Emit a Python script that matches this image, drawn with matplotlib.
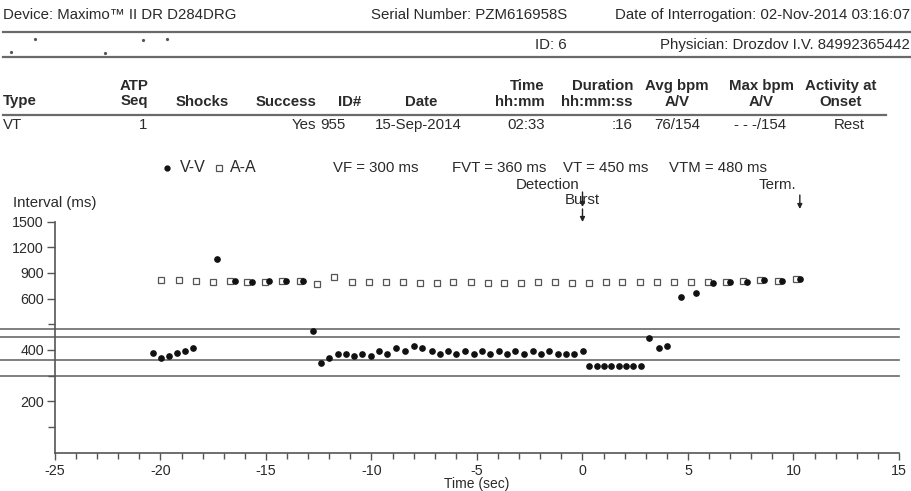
import numpy as np
import matplotlib.pyplot as plt
from matplotlib import transforms
from matplotlib.lines import Line2D

plt.rcParams['font.family'] = ['Liberation Sans', 'DejaVu Sans']

# ---- episode data ----
vv_time = [-20.37, -19.99, -19.61, -19.23, -18.84, -18.45, -17.34, -16.48, -15.68, -14.86,
           -14.05, -13.23, -12.76, -12.38, -12.00, -11.60, -11.22, -10.84, -10.44, -10.04,
           -9.64, -9.25, -8.82, -8.43, -7.99, -7.59, -7.15, -6.77, -6.37, -5.98,
           -5.57, -5.16, -4.76, -4.38, -3.97, -3.59, -3.18, -2.77, -2.36, -1.97,
           -1.57, -1.16, -0.78, -0.40, 0.01, 0.33, 0.67, 1.02, 1.36, 1.71,
           2.06, 2.40, 2.76, 3.17, 3.63, 4.02, 4.67, 5.36, 6.17, 6.99,
           7.81, 8.62, 9.45, 10.31]
vv_ms = [387, 367, 378, 387, 397, 406, 1060, 803, 800, 806,
         806, 803, 475, 348, 367, 386, 386, 378, 386, 378,
         397, 386, 406, 397, 417, 406, 397, 386, 397, 386,
         397, 386, 397, 386, 397, 386, 397, 386, 397, 386,
         397, 386, 386, 386, 397, 337, 337, 337, 337, 337,
         337, 337, 337, 448, 406, 415, 623, 670, 780, 795,
         791, 822, 803, 830]

aa_time = [-19.99, -19.14, -18.33, -17.53, -16.71, -15.89, -15.05, -14.23, -13.39, -12.60,
           -11.76, -10.94, -10.12, -9.31, -8.49, -7.68, -6.91, -6.12, -5.30, -4.49,
           -3.70, -2.91, -2.11, -1.30, -0.49, 0.32, 1.11, 1.89, 2.73, 3.53,
           4.34, 5.16, 5.94, 6.78, 7.61, 8.43, 9.28, 10.10]
aa_ms = [822, 822, 803, 798, 807, 798, 798, 807, 807, 771,
         849, 798, 798, 791, 791, 780, 780, 791, 791, 780,
         780, 780, 791, 791, 780, 780, 791, 798, 791, 791,
         791, 791, 791, 798, 803, 822, 803, 826]

zones = [480, 450, 360, 300]
zone_labels = ["VF = 300 ms", "FVT = 360 ms", "VT = 450 ms", "VTM = 480 ms"]
detection_t = 0.0
term_t = 10.3

header_top = ["", "ATP", "", "", "", "", "Time", "Duration", "Avg bpm", "Max bpm", "Activity at"]
header_bottom = ["Type", "Seq", "Shocks", "Success", "ID#", "Date", "hh:mm", "hh:mm:ss", "A/V", "A/V", "Onset"]
row_values = ["VT", "1", "", "Yes", "955", "15-Sep-2014", "02:33", ":16", "76/154", "- - -/154", "Rest"]

W, H = 912, 491
def fx(x):
    return x / W
def fy(y):
    return 1 - y / H

TXT = '#2a2a2a'
GRID = '#6a6a6a'
FS = 10.8

fig = plt.figure(figsize=(9.12, 4.91), dpi=100)
fig.patch.set_facecolor('white')

# ---- report header ----
fig.text(fx(3), fy(15), "Device: Maximo\u2122 II DR D284DRG", fontsize=FS, color=TXT, va='center')
fig.text(fx(567), fy(15), "Serial Number: PZM616958S", fontsize=FS, color=TXT, va='center', ha='right')
fig.text(fx(910), fy(15), "Date of Interrogation: 02-Nov-2014 03:16:07", fontsize=FS, color=TXT, va='center', ha='right')
fig.text(fx(567), fy(45), "ID: 6", fontsize=FS, color=TXT, va='center', ha='right')
fig.text(fx(910), fy(45), "Physician: Drozdov I.V. 84992365442", fontsize=FS, color=TXT, va='center', ha='right')
for xx, yy in [(11, 52), (35, 39), (105, 53), (143, 40), (167, 39)]:
    fig.add_artist(Line2D([fx(xx)], [fy(yy)], marker='o', ms=1.3, color='#555', lw=0))
fig.add_artist(Line2D([fx(3), fx(911)], [fy(31.5), fy(31.5)], color=GRID, lw=1.6))
fig.add_artist(Line2D([fx(3), fx(911)], [fy(56.5), fy(56.5)], color=GRID, lw=1.6))

# ---- episode table ----
head_x = [3, 148, 202, 316, 350, 421, 545, 633, 677, 761, 841]
head_ha = ['left', 'right', 'center', 'right', 'center', 'center', 'right', 'right', 'center', 'center', 'center']
val_x = [3, 147, 202, 316, 333, 418, 545, 633, 677, 760, 849]
for i in range(len(header_bottom)):
    if header_top[i]:
        fig.text(fx(head_x[i]), fy(86), header_top[i], fontsize=FS, fontweight='bold',
                 color=TXT, ha=head_ha[i], va='center')
    fig.text(fx(head_x[i]), fy(101.5), header_bottom[i], fontsize=FS, fontweight='bold',
             color=TXT, ha=head_ha[i], va='center')
    fig.text(fx(val_x[i]), fy(125), row_values[i], fontsize=FS, color=TXT,
             ha=head_ha[i], va='center')
fig.add_artist(Line2D([fx(3), fx(886)], [fy(115), fy(115)], color=GRID, lw=1.6))

# ---- legend line ----
fig.add_artist(Line2D([fx(167)], [fy(168)], marker='o', ms=3.5, color='#111', lw=0))
fig.add_artist(Line2D([fx(219)], [fy(168)], marker='s', ms=4.5, mfc='white', mec='#555', mew=0.9, lw=0))
fig.text(fx(180), fy(168), "V-V", fontsize=11.5, color=TXT, va='center')
fig.text(fx(230), fy(168), "A-A", fontsize=11.5, color=TXT, va='center')
for lab, xx in zip(zone_labels, [333, 452, 563, 669]):
    fig.text(fx(xx), fy(168), lab, fontsize=FS, color=TXT, va='center')

# ---- interval plot ----
ax = fig.add_axes([fx(55), fy(452.5), 844 / W, 230.8 / H])

def fwd(y):
    y = np.asarray(y, dtype=float)
    return np.where(y <= 600, y, 600 + (y - 600) / 3.0)

def inv(z):
    z = np.asarray(z, dtype=float)
    return np.where(z <= 600, z, 600 + (z - 600) * 3.0)

ax.set_yscale('function', functions=(fwd, inv))
ax.set_xlim(-25, 15)
ax.set_ylim(0, 1500)

for v in zones:
    ax.axhline(v, xmin=-0.07, xmax=1.0, color=GRID, lw=1.2, clip_on=False, zorder=1)

ax.plot(aa_time, aa_ms, 's', ms=4.5, mfc='white', mec='#555', mew=0.9, zorder=3)
ax.plot(vv_time, vv_ms, 'o', ms=3.8, color='#111', zorder=4)

for s in ['top', 'right']:
    ax.spines[s].set_visible(False)
for s in ['left', 'bottom']:
    ax.spines[s].set_color('#555')
    ax.spines[s].set_linewidth(1.2)

ax.set_yticks([200, 400, 600, 900, 1200, 1500])
ax.set_yticks([100, 300, 500], minor=True)
ax.set_xticks(np.arange(-25, 16, 5))
ax.set_xticks(np.arange(-25, 16, 1), minor=True)
ax.tick_params(axis='y', which='major', length=6, width=1, color='#555', labelsize=10.3, labelcolor=TXT, pad=2)
ax.tick_params(axis='y', which='minor', length=5, width=1, color='#555')
ax.tick_params(axis='x', which='major', length=5, width=1, color='#555', labelsize=10.3, labelcolor=TXT, pad=3)
ax.tick_params(axis='x', which='minor', length=4, width=1, color='#555')
ax.set_xticklabels([str(int(t)) for t in np.arange(-25, 16, 5)])

fig.text(fx(13), fy(203), "Interval (ms)", fontsize=FS, color=TXT, va='center')
fig.text(fx(477), fy(484), "Time (sec)", fontsize=10, color=TXT, va='center', ha='center')

# detection / termination markers
blend = transforms.blended_transform_factory(ax.transData, fig.transFigure)
fig.text(fx(548), fy(185), "Detection", fontsize=FS, color=TXT, va='center', ha='center')
fig.text(fx(582), fy(200), "Burst", fontsize=FS, color=TXT, va='center', ha='center')
fig.text(fx(777), fy(185), "Term.", fontsize=FS, color=TXT, va='center', ha='center')
arrow = dict(arrowstyle='-|>', color='#222', lw=1, mutation_scale=7, shrinkA=0, shrinkB=0)
ax.annotate('', xy=(detection_t, fy(207)), xytext=(detection_t, fy(192)), xycoords=blend, textcoords=blend, arrowprops=arrow)
ax.annotate('', xy=(detection_t, fy(222)), xytext=(detection_t, fy(209)), xycoords=blend, textcoords=blend, arrowprops=arrow)
ax.annotate('', xy=(term_t, fy(209)), xytext=(term_t, fy(195)), xycoords=blend, textcoords=blend, arrowprops=arrow)

fig.savefig('out.png', dpi=100)
